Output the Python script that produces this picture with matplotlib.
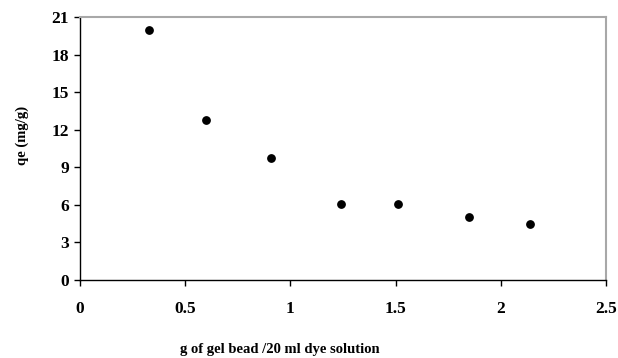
import matplotlib
matplotlib.use("Agg")
import matplotlib.pyplot as plt

plt.rcParams['font.family'] = ['Liberation Serif', 'DejaVu Serif']
plt.rcParams['font.weight'] = 'bold'

# g of gel bead per 20 ml dye solution
dose = [0.33, 0.60, 0.91, 1.24, 1.51, 1.85, 2.14]
# qe (mg/g)
qe = [19.95, 12.8, 9.75, 6.1, 6.1, 5.0, 4.5]

x_ticks = [0, 0.5, 1, 1.5, 2, 2.5]
x_tick_labels = ['0', '0.5', '1', '1.5', '2', '2.5']
y_ticks = [0, 3, 6, 9, 12, 15, 18, 21]

fig = plt.figure(figsize=(6.18, 3.58), dpi=100)
ax = fig.add_axes([0.1294, 0.2179, 0.8512, 0.7346])

ax.scatter(dose, qe, s=28, color='black', zorder=3)

ax.set_xlim(0, 2.5)
ax.set_ylim(0, 21)
ax.set_xticks(x_ticks)
ax.set_xticklabels(x_tick_labels)
ax.set_yticks(y_ticks)
ax.tick_params(direction='out', length=4, width=1, labelsize=12.5)
ax.tick_params(axis='x', pad=11)
ax.tick_params(axis='y', pad=4)

for s in ['left', 'bottom']:
    ax.spines[s].set_color('black')
    ax.spines[s].set_linewidth(1.0)
for s in ['top', 'right']:
    ax.spines[s].set_color('#a8a8a8')
    ax.spines[s].set_linewidth(1.5)

ax.set_xlabel('g of gel bead /20 ml dye solution', fontsize=10.5, fontweight='bold', va='center')
ax.xaxis.set_label_coords(0.38, -0.266)
ax.set_ylabel('qe (mg/g)', fontsize=10.5, fontweight='bold', va='center')
ax.yaxis.set_label_coords(-0.11, 0.55)

fig.savefig('out.png', dpi=100)
